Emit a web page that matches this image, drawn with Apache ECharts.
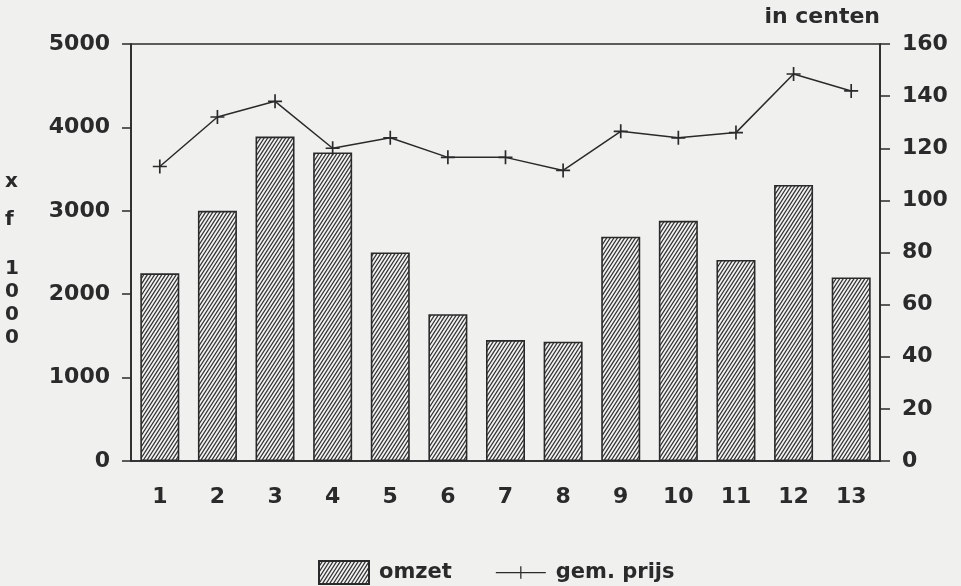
<!DOCTYPE html>
<html>
<head>
<meta charset="utf-8">
<script src="https://cdn.jsdelivr.net/npm/echarts@6/dist/echarts.min.js"></script>
<style>
  html, body { margin: 0; padding: 0; background: #f0f0ef; }
  #chart { width: 961px; height: 586px; }
</style>
</head>
<body>
<div id="chart"></div>
<script>
  var categories = ['1', '2', '3', '4', '5', '6', '7', '8', '9', '10', '11', '12', '13'];
  var omzet = [2250, 3000, 3890, 3700, 2500, 1760, 1450, 1430, 2690, 2880, 2410, 3310, 2200];
  var gemPrijs = [113, 132, 138, 120, 124, 116.5, 116.5, 111.5, 126.5, 124, 126, 148.5, 142];
  var leftTicks = { min: 0, max: 5000, interval: 1000 };
  var rightTicks = { min: 0, max: 160, interval: 20 };

  var ink = '#2a2a2a';
  var font = 'DejaVu Sans';

  // hatch pattern for the bars
  function hatch() {
    var w = 3.6, h = 5.6;
    var c = document.createElement('canvas');
    c.width = 36; c.height = 56;
    var ctx = c.getContext('2d');
    ctx.fillStyle = '#f2f2f1';
    ctx.fillRect(0, 0, c.width, c.height);
    ctx.strokeStyle = '#333';
    ctx.lineWidth = 1.25;
    ctx.beginPath();
    for (var k = -12; k < 24; k++) {
      ctx.moveTo(k * w + 10 * w, -10 * h);
      ctx.lineTo(k * w - 20 * w, 20 * h);
    }
    ctx.stroke();
    return c;
  }
  var pattern = { image: hatch(), repeat: 'repeat' };

  var chart = echarts.init(document.getElementById('chart'));
  var option = {
    backgroundColor: '#f0f0ef',
    animation: false,
    textStyle: { fontFamily: font },
    grid: {
      left: 131, right: 81, top: 44, bottom: 125,
      show: true, borderColor: ink, borderWidth: 1.6, backgroundColor: 'transparent'
    },
    legend: {
      left: 313, top: 555,
      itemWidth: 50, itemHeight: 23, itemGap: 44,
      textStyle: { fontFamily: font, fontWeight: 'bold', fontSize: 21, color: ink, padding: [0, 0, 0, 5] },
      data: [
        { name: 'omzet', icon: 'rect' },
        { name: 'gem. prijs', icon: 'path://M0,11.4H48V12.6H0Z M23.4,6H24.6V18H23.4Z' }
      ]
    },
    graphic: [
      { type: 'text', right: 81, top: 6,
        style: { text: 'in centen', font: 'bold 22px "DejaVu Sans"', fill: ink } },
      { type: 'text', left: 5, top: 163,
        style: { text: 'x\nf', font: 'bold 20px "DejaVu Sans"', fill: ink, lineHeight: 38 } },
      { type: 'text', left: 5, top: 257,
        style: { text: '1\n0\n0\n0', font: 'bold 20px "DejaVu Sans"', fill: ink, lineHeight: 23 } }
    ],
    xAxis: {
      type: 'category',
      data: categories,
      boundaryGap: true,
      axisLine: { lineStyle: { color: ink, width: 1.6 } },
      axisTick: { alignWithLabel: true, length: 10, lineStyle: { color: ink, width: 1.5 } },
      axisLabel: { margin: 25, color: ink, fontSize: 22, fontWeight: 'bold', fontFamily: font }
    },
    yAxis: [
      {
        type: 'value', min: leftTicks.min, max: leftTicks.max, interval: leftTicks.interval,
        axisLine: { show: true, lineStyle: { color: ink, width: 1.6 } },
        axisTick: { show: true, length: 9, lineStyle: { color: ink, width: 1.5 } },
        splitLine: { show: false },
        axisLabel: { margin: 21, color: ink, fontSize: 22, fontWeight: 'bold', fontFamily: font,
          formatter: function (v) { return String(v); } }
      },
      {
        type: 'value', min: rightTicks.min, max: rightTicks.max, interval: rightTicks.interval,
        position: 'right',
        axisLine: { show: true, lineStyle: { color: ink, width: 1.6 } },
        axisTick: { show: true, length: 10, lineStyle: { color: ink, width: 1.5 } },
        splitLine: { show: false },
        axisLabel: { margin: 22, color: ink, fontSize: 22, fontWeight: 'bold', fontFamily: font }
      }
    ],
    series: [
      {
        name: 'omzet',
        type: 'bar',
        yAxisIndex: 0,
        barWidth: 39,
        itemStyle: { color: pattern, borderColor: ink, borderWidth: 1.6 },
        data: omzet
      },
      {
        name: 'gem. prijs',
        type: 'line',
        yAxisIndex: 1,
        symbol: 'path://M0,4.4H10V5.6H0Z M4.4,0H5.6V10H4.4Z',
        symbolSize: 14,
        itemStyle: { color: ink },
        lineStyle: { color: ink, width: 1.5 },
        data: gemPrijs
      }
    ]
  };
  chart.setOption(option);
</script>
</body>
</html>
